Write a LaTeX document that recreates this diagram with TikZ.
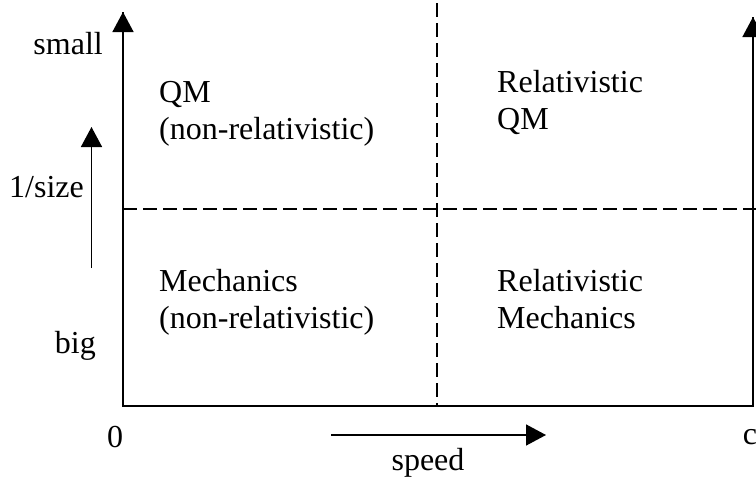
\documentclass[tikz,border=0pt]{standalone}
\usepackage{fontspec}
\setmainfont{Liberation Serif}
\usetikzlibrary{arrows.meta}
\tikzset{
  axis/.style={line width=1.8pt, line cap=butt},
  arr/.style={line width=1.5pt, -{Triangle[length=20pt,width=21pt]}},
  divider/.style={line width=1.3pt, dash pattern=on 14pt off 6pt},
  lbl/.style={inner sep=0pt, font=\fontsize{32}{37}\selectfont},
  region/.style={inner sep=0pt, align=left, anchor=base west, font=\fontsize{32}{37}\selectfont}
}
\begin{document}
\begin{tikzpicture}[x=1pt, y=-1pt]
\useasboundingbox (0,0) rectangle (756,477);
% frame coordinates
\coordinate (O) at (123,406);
\coordinate (Ltop) at (123,12);
\coordinate (C) at (753,406);
\coordinate (Rtop) at (753,17);
\coordinate (Vtop) at (437,3);
\coordinate (Vbot) at (437,406);
\coordinate (Hl) at (123,209);
\coordinate (Hr) at (756,209);
\coordinate (Sb) at (91.5,268);
\coordinate (St) at (91.5,127);
\coordinate (Pl) at (331,435);
\coordinate (Pr) at (546,435);
% dividers
\draw[divider] (Vtop) -- (Vbot);
\draw[divider] (Hl) -- (Hr);
% axes
\draw[axis] (Rtop) -- (C) -- (O) -- (Ltop);
\draw[arr] (O) -- (Ltop);
\draw[arr] (C) -- (Rtop);
\draw[arr] (Sb) -- (St);
\draw[arr] (Pl) -- (Pr);
% labels
\node[lbl, anchor=base east] (small) at (103,54) {small};
\node[lbl, anchor=base east] (size) at (84,197) {1/size};
\node[lbl, anchor=base east] (big) at (96,353) {big};
\node[lbl, anchor=base] (zero) at (115,447) {0};
\node[lbl, anchor=base] (c) at (750,444) {c};
\node[lbl, anchor=base] (speed) at (428,470) {speed};
% regions (base anchor = baseline of the last line)
\node[region] (qm) at (159,139) {QM\\(non-relativistic)};
\node[region] (rqm) at (497,129) {Relativistic\\QM};
\node[region] (mech) at (159,328) {Mechanics\\(non-relativistic)};
\node[region] (rmech) at (497,328) {Relativistic\\Mechanics};
\end{tikzpicture}
\end{document}
